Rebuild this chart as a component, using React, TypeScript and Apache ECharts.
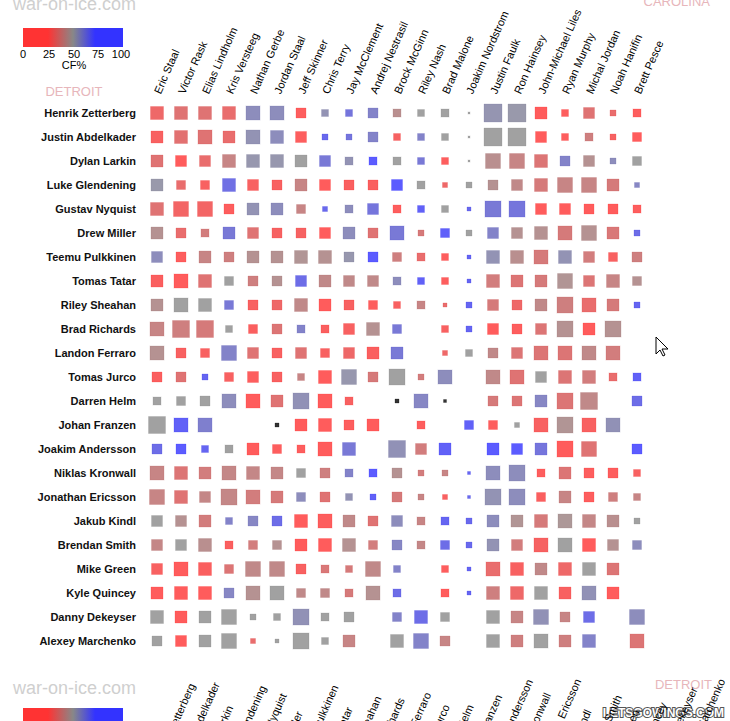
import React, { useEffect, useRef } from "react";
import * as echarts from "echarts";

const carolina = ["Eric Staal","Victor Rask","Elias Lindholm","Kris Versteeg","Nathan Gerbe","Jordan Staal","Jeff Skinner","Chris Terry","Jay McClement","Andrej Nestrasil","Brock McGinn","Riley Nash","Brad Malone","Joakim Nordstrom","Justin Faulk","Ron Hainsey","John-Michael Liles","Ryan Murphy","Michal Jordan","Noah Hanifin","Brett Pesce"];
const detroit = ["Henrik Zetterberg","Justin Abdelkader","Dylan Larkin","Luke Glendening","Gustav Nyquist","Drew Miller","Teemu Pulkkinen","Tomas Tatar","Riley Sheahan","Brad Richards","Landon Ferraro","Tomas Jurco","Darren Helm","Johan Franzen","Joakim Andersson","Niklas Kronwall","Jonathan Ericsson","Jakub Kindl","Brendan Smith","Mike Green","Kyle Quincey","Danny Dekeyser","Alexey Marchenko"];

// Even-strength time on ice together (minutes); 0 = never on ice together
const toiRows: number[][] = [
  [18.8,18.8,18.8,18.8,21.8,21.8,11.1,5.4,5.4,11.1,7.1,5.4,7.1,0.4,36,36,16,5.4,13.4,4,7.1],
  [16,18.8,21.8,16,21.8,18.8,13.4,4,4,11.1,5.4,5.4,5.4,0.4,36,36,13.4,5.4,7.1,4,9],
  [16,13.4,13.4,18.8,18.8,18.8,16,13.4,7.1,7.1,7.1,5.4,5.4,0.4,25,25,18.8,11.1,13.4,4,9],
  [16,9,9,18.8,13.4,11.1,16,13.4,11.1,11.1,13.4,7.1,2.8,4,11.1,13.4,18.8,25,25,16,2.8],
  [18.8,25,25,11.1,16,16,9,2.8,7.1,13.4,7.1,5.4,5.4,1.8,28.4,28.4,13.4,13.4,11.1,11.1,7.1],
  [16,11.1,7.1,16,13.4,11.1,11.1,13.4,16,11.1,21.8,4,9,4,13.4,13.4,18.8,21.8,25,16,4],
  [13.4,11.1,16,11.1,16,16,18.8,18.8,11.1,11.1,9,7.1,5.4,1.8,18.8,18.8,21.8,18.8,13.4,9,11.1],
  [16,21.8,18.8,9,11.1,11.1,13.4,16,13.4,13.4,7.1,5.4,5.4,1.8,18.8,16,16,25,13.4,18.8,9],
  [16,21.8,18.8,9,11.1,11.1,18.8,16,11.1,9,5.4,7.1,1.8,4,13.4,11.1,16,28.4,21.8,16,4],
  [21.8,32.1,32.1,5.4,9,11.1,7.1,7.1,13.4,18.8,9,0,5.4,4,13.4,11.1,13.4,28.4,16,28.4,0],
  [21.8,11.1,9,25,13.4,11.1,13.4,9,13.4,16,16,0,2.8,5.4,11.1,13.4,21.8,21.8,21.8,21.8,0],
  [11.1,11.1,4,9,13.4,11.1,5.4,18.8,25,11.1,28.4,4,21.8,0,21.8,21.8,13.4,18.8,18.8,7.1,7.1],
  [7.1,9,11.1,21.8,21.8,16,28.4,21.8,7.1,0,1.8,21.8,1.0,0,11.1,11.1,16,28.4,32.1,0,11.1],
  [32.1,21.8,21.8,0,0,1.8,16,18.8,11.1,16,0,7.1,0,9,9,2.8,21.8,28.4,21.8,21.8,0],
  [11.1,11.1,5.4,7.1,16,9,7.1,21.8,18.8,0,32.1,13.4,16,0,16,13.4,16,28.4,25,0,11.1],
  [21.8,18.8,16,21.8,18.8,16,9,11.1,7.1,7.1,11.1,4,4,1.0,21.8,28.4,7.1,16,11.1,11.1,5.4],
  [25,18.8,13.4,28.4,21.8,16,9,11.1,5.4,4,11.1,4,2.8,1.0,28.4,28.4,9,16,11.1,9,5.4],
  [13.4,13.4,16,5.4,11.1,11.1,18.8,21.8,16,11.1,13.4,7.1,7.1,4,16,16,18.8,21.8,18.8,16,4],
  [13.4,13.4,18.8,7.1,9,9,16,18.8,18.8,9,11.1,7.1,9,4,16,13.4,21.8,21.8,18.8,13.4,9],
  [13.4,21.8,18.8,9,25,25,11.1,7.1,5.4,25,5.4,0,5.4,1.8,21.8,18.8,16,18.8,18.8,16,0],
  [16,18.8,18.8,11.1,21.8,21.8,9,9,7.1,21.8,7.1,0,7.1,1.8,18.8,18.8,18.8,16,21.8,16,0],
  [18.8,16,16,25,4,5.4,28.4,7.1,11.1,0,9,18.8,9,0,18.8,16,25,11.1,13.4,0,25],
  [11.1,13.4,16,25,2.8,1.8,28.4,5.4,16,0,18.8,25,11.1,0,18.8,16,21.8,16,18.8,0,21.8],
];

// Corsi-for percentage with each pair; null = no shot attempts (drawn black)
const cfRows: (number | null)[][] = [
  [28,33,33,30,60,60,22,57,72,65,44,50,50,50,56,54,18,22,33,30,22],
  [24,32,33,30,57,60,22,78,72,65,25,65,50,50,50,50,18,22,38,25,18],
  [33,18,30,40,55,55,50,70,57,85,50,70,22,50,44,40,34,65,45,60,50],
  [54,30,24,75,24,24,40,20,23,23,85,50,28,50,45,42,36,40,40,36,63],
  [33,26,26,22,57,60,40,78,60,72,22,82,50,78,70,72,18,18,18,20,22],
  [45,30,37,70,33,25,25,20,60,33,70,36,83,50,65,45,45,36,45,35,76],
  [60,22,40,38,45,45,46,45,55,85,38,30,22,80,57,44,36,57,37,24,38],
  [23,18,33,50,38,45,76,42,42,42,60,82,22,80,37,34,36,46,34,40,45],
  [45,50,50,70,24,28,42,20,24,22,24,40,30,80,36,28,42,38,30,36,80],
  [40,38,36,50,23,34,65,23,24,45,70,null,24,80,20,22,34,45,20,45,null],
  [45,24,24,65,33,24,33,24,28,23,70,null,28,50,42,34,34,34,42,37,null],
  [23,33,80,24,22,24,40,20,55,36,50,37,60,null,42,33,50,34,37,30,82],
  [50,50,50,60,20,33,58,20,24,null,null,63,null,null,36,34,63,34,42,null,76],
  [50,82,67,null,null,null,20,20,22,20,null,22,null,82,22,50,24,46,24,58,null],
  [76,85,80,50,20,22,22,18,70,null,58,37,82,null,85,85,72,18,33,null,85],
  [40,34,37,41,41,41,50,38,65,85,45,37,40,80,60,60,22,34,22,22,24],
  [40,33,41,41,37,36,60,33,57,82,36,40,24,78,57,60,23,40,22,38,40],
  [50,45,37,65,63,76,20,22,42,33,60,40,80,78,60,46,36,47,41,44,50],
  [41,50,44,23,37,45,20,18,45,37,63,41,76,78,57,37,25,50,20,45,60],
  [24,20,23,34,42,42,24,35,36,42,65,null,22,80,30,24,42,28,50,34,null],
  [20,20,20,63,45,50,42,42,36,45,76,null,20,80,38,28,50,24,58,20,null],
  [50,20,50,50,50,50,58,50,50,null,65,76,50,null,50,40,58,40,76,null,60],
  [50,20,50,50,30,50,50,50,40,null,50,65,40,null,50,38,50,38,65,null,34],
];

const legendTicks = ["0", "25", "50", "75", "100"];

const RED = [255, 51, 51];
const GRAY = [137, 137, 137];
const BLUE = [51, 51, 255];

function mix(a: number[], b: number[], t: number) {
  return a.map((v, i) => Math.round(v + (b[i] - v) * t));
}
function cfColor(cf: number | null, alpha = 1) {
  let c: number[];
  if (cf == null) c = [0, 0, 0];
  else if (cf <= 20) c = RED;
  else if (cf < 50) c = mix(RED, GRAY, Math.pow((cf - 20) / 30, 1.3));
  else if (cf < 85) c = mix(GRAY, BLUE, (cf - 50) / 35);
  else c = BLUE;
  return `rgba(${c[0]},${c[1]},${c[2]},${alpha})`;
}

const FONT = "'Liberation Sans', Arial, sans-serif";

export default function App() {
  const ref = useRef<HTMLDivElement>(null);
  useEffect(() => {
    if (!ref.current) return;
    const chart = echarts.init(ref.current, null, { renderer: "svg" });

    const data: any[] = [];
    toiRows.forEach((row, r) => {
      row.forEach((toi, c) => {
        if (toi > 0) {
          const cf = cfRows[r][c];
          data.push({
            value: [c, r, toi, cf],
            itemStyle: {
              color: cfColor(cf),
              borderColor: cfColor(cf, 0.3),
              borderWidth: 1,
            },
          });
        }
      });
    });

    const gradient = {
      type: "linear", x: 0, y: 0, x2: 1, y2: 0,
      colorStops: [
        { offset: 0, color: "#ff3333" },
        { offset: 0.25, color: "#ff3333" },
        { offset: 0.5, color: "#888888" },
        { offset: 0.72, color: "#3333ff" },
        { offset: 1, color: "#3333ff" },
      ],
    };

    const legendLabelX = [23, 49, 74, 98, 121];

    const legend = (y0: number, withLabels: boolean) => {
      const els: any[] = [
        { type: "rect", shape: { x: 23, y: y0, width: 100, height: 19 }, style: { fill: gradient } },
      ];
      if (withLabels) {
        legendTicks.forEach((t, i) => {
          els.push({
            type: "text", x: legendLabelX[i], y: y0 + 26,
            style: { text: t, fill: "#000", font: `11px ${FONT}`, textAlign: "center", textVerticalAlign: "middle" },
          });
        });
        els.push({
          type: "text", x: 74, y: y0 + 37,
          style: { text: "CF%", fill: "#000", font: `11px ${FONT}`, textAlign: "center", textVerticalAlign: "middle" },
        });
      }
      return els;
    };

    const axisLabelTop = {
      rotate: -66, fontSize: 11, color: "#000", fontFamily: FONT, margin: 8, interval: 0,
    };

    chart.setOption({
      animation: false,
      backgroundColor: "#fff",
      grid: [
        { left: 145, top: 101, width: 504, height: 552 },
        { left: 145, top: 770, width: 552, height: 100 },
      ],
      xAxis: [
        {
          type: "category", gridIndex: 0, data: carolina, position: "top",
          axisLine: { show: false }, axisTick: { show: false }, splitLine: { show: false },
          axisLabel: axisLabelTop,
        },
        {
          type: "category", gridIndex: 1, data: detroit, position: "top",
          axisLine: { show: false }, axisTick: { show: false }, splitLine: { show: false },
          axisLabel: axisLabelTop,
        },
      ],
      yAxis: [
        {
          type: "category", gridIndex: 0, data: detroit, inverse: true,
          axisLine: { show: false }, axisTick: { show: false }, splitLine: { show: false },
          axisLabel: { fontSize: 11, fontWeight: "bold", color: "#111", fontFamily: FONT, margin: 9, interval: 0 },
        },
        { type: "category", gridIndex: 1, data: [], show: false },
      ],
      series: [
        {
          type: "scatter", xAxisIndex: 0, yAxisIndex: 0, symbol: "rect",
          symbolSize: (v: any) => 3 * Math.sqrt(v[2]),
          data,
        },
      ],
      graphic: [
        { type: "text", x: 13, y: 13, style: { text: "war-on-ice.com", fill: "#cfcfcf", font: `18px ${FONT}`, textVerticalAlign: "bottom" } },
        ...legend(28, true),
        { type: "text", x: 74, y: 91, style: { text: "DETROIT", fill: "#e7b6bb", font: `13px ${FONT}`, textAlign: "center", textVerticalAlign: "middle" } },
        { type: "text", x: 710, y: 8, style: { text: "CAROLINA", fill: "#e7b6bb", font: `13px ${FONT}`, textAlign: "right", textVerticalAlign: "bottom" } },
        { type: "text", x: 13, y: 697, style: { text: "war-on-ice.com", fill: "#cfcfcf", font: `18px ${FONT}`, textVerticalAlign: "bottom" } },
        ...legend(708, false),
        { type: "text", x: 712, y: 691, style: { text: "DETROIT", fill: "#e7b6bb", font: `13px ${FONT}`, textAlign: "right", textVerticalAlign: "bottom" } },
        { type: "text", x: 724, y: 719, style: { text: "LETSGOWINGS.COM", fill: "#ffffff", stroke: "#555", lineWidth: 2, font: `bold 12px ${FONT}`, textAlign: "right", textVerticalAlign: "bottom" } },
        {
          type: "polygon", x: 656, y: 337,
          shape: { points: [[0, 0], [0, 17], [4, 13], [7, 19], [9, 18], [6, 12], [12, 12]] },
          style: { fill: "#fff", stroke: "#000", lineWidth: 1 },
        },
      ],
    });
    return () => chart.dispose();
  }, []);
  return <div ref={ref} style={{ position: "fixed", left: 0, top: 0, width: 730, height: 721 }} />;
}
